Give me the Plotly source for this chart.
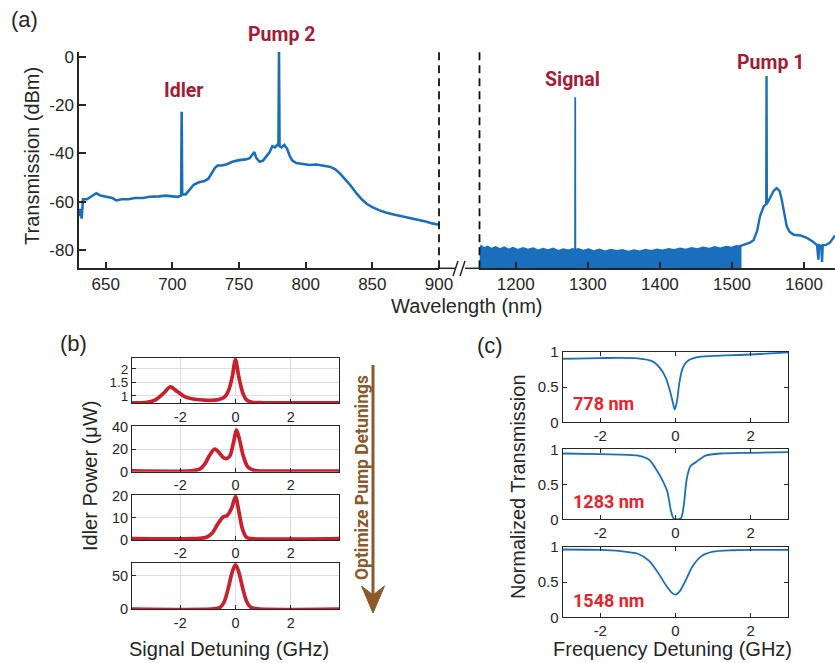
import plotly.graph_objects as go

# ---------------- data ----------------
# (a) spectrum, short-wavelength segment
left_wl = [630, 631, 632, 633, 636, 640, 643, 646, 650, 655, 658, 662, 667, 672, 678, 683, 690, 695,
           700, 704, 706.6, 707, 707.4, 710, 713, 716, 720, 724, 727, 730, 732, 734, 737, 741, 745,
           750, 755, 758, 760, 761.5, 763, 765.5, 768, 770.5, 773, 775, 777, 779.6, 780, 780.4, 782,
           784, 786, 788, 790, 793, 798, 803, 808, 813, 818, 822, 826, 830, 834, 838, 842, 846, 850,
           855, 860, 866, 872, 878, 884, 890, 895, 900]
left_dbm = [-66, -63, -67, -59, -59, -57.5, -56.5, -57.5, -58, -58.5, -59.5, -59, -59, -58.5, -58.5,
            -58, -57.8, -57.5, -57.8, -58, -57.5, -22.8, -57, -57, -55, -53, -52, -51.5, -50.5, -48,
            -46, -45, -45, -44.5, -43.5, -42.8, -42.5, -42, -40.5, -39.5, -42, -43.5, -43, -41, -39.5,
            -37, -37.5, -36, 2.0, -37, -37.5, -36.5, -38, -41, -43, -44, -44.5, -44.8, -44.6, -45,
            -45.5, -46.5, -48.5, -51, -53.5, -56.5, -59, -61, -62.3, -63.5, -64.5, -65.3, -66, -67,
            -67.6, -68.2, -69, -69.6]

# (a) long-wavelength segment: noise-floor envelope (top) and resolved trace
noise_wl = [1150, 1152, 1156, 1161, 1166, 1172, 1178, 1184, 1190, 1196, 1203, 1210, 1217, 1224, 1231,
            1238, 1245, 1252, 1259, 1266, 1273, 1279, 1282.3, 1282.5, 1282.7, 1287, 1294, 1301, 1308,
            1316, 1324, 1332, 1340, 1348, 1356, 1364, 1372, 1380, 1388, 1396, 1404, 1412, 1420, 1428,
            1436, 1444, 1452, 1460, 1468, 1476, 1484, 1492, 1500, 1506, 1512]
noise_top = [-80, -78.3, -79.2, -78.6, -79.5, -78.8, -79.6, -78.9, -79.8, -79.1, -80, -79.2, -79.9,
             -79.3, -80.2, -79.5, -80.1, -79.4, -80.4, -79.7, -80.2, -79.6, -80, -16.8, -80, -79.6,
             -80.3, -79.7, -80.5, -79.8, -80.6, -79.9, -80.4, -80.0, -80.7, -80.1, -80.6, -79.9, -80.4,
             -79.8, -80.2, -79.6, -80.0, -79.4, -79.9, -79.2, -79.7, -79.0, -79.5, -78.8, -79.3, -78.6,
             -79.0, -78.3, -78.5]
noise_bottom = -90
right_wl = [1510, 1515, 1520, 1525, 1530, 1535, 1539, 1544, 1547.6, 1548, 1548.4, 1551, 1555, 1558,
            1562, 1566, 1569, 1572, 1576, 1580, 1586, 1595, 1604, 1612, 1618, 1620, 1621, 1624, 1625,
            1626, 1630, 1636, 1643]
right_dbm = [-78.5, -78, -77.5, -77, -76, -72, -66, -62, -61, -8, -61, -59.5, -57, -55.5, -54.4, -55.5,
             -59, -64, -70.2, -72.5, -73.7, -74, -75, -76.5, -78, -84, -78, -78.5, -85, -78, -78, -77, -74]

# (b) idler power vs signal detuning, four pump-detuning settings
b1_x = [-3.75, -3.2, -2.9, -2.6, -2.36, -2.1, -1.8, -1.4, -1.0, -0.6, -0.4, -0.25, -0.12, 0, 0.12, 0.25, 0.4, 0.6, 1.0, 2.0, 3.75]
b1_y = [0.74, 0.76, 0.85, 1.1, 1.33, 1.15, 0.95, 0.86, 0.83, 0.86, 0.95, 1.2, 1.7, 2.35, 1.7, 1.15, 0.85, 0.76, 0.74, 0.74, 0.74]
b2_x = [-3.75, -1.6, -1.3, -1.1, -0.95, -0.76, -0.6, -0.45, -0.33, -0.2, -0.08, 0.04, 0.15, 0.28, 0.45, 0.7, 1.0, 3.75]
b2_y = [0.5, 0.6, 2, 7, 14, 20, 17, 12.5, 11.5, 14, 25, 37, 28, 14, 4, 0.8, 0.4, 0.4]
b3_x = [-3.75, -1.3, -1.05, -0.85, -0.65, -0.45, -0.3, -0.15, 0, 0.12, 0.25, 0.4, 0.6, 3.75]
b3_y = [0.6, 0.7, 1.2, 3, 7, 10.3, 11, 14, 19.5, 13, 5, 1.2, 0.6, 0.6]
b4_x = [-3.75, -0.8, -0.55, -0.4, -0.25, -0.12, 0, 0.12, 0.25, 0.4, 0.55, 0.8, 3.75]
b4_y = [0.3, 0.5, 3, 12, 33, 55, 66, 55, 33, 12, 3, 0.5, 0.3]

# (c) normalized transmission of three resonances
c1_x = [-3, -2, -1, -0.6, -0.4, -0.25, -0.15, -0.07, -0.02, 0.04, 0.1, 0.18, 0.3, 0.55, 1, 2, 3]
c1_y = [0.90, 0.91, 0.905, 0.86, 0.76, 0.62, 0.45, 0.28, 0.18, 0.30, 0.55, 0.75, 0.86, 0.92, 0.94, 0.96, 0.99]
c2_x = [-3, -2, -1, -0.7, -0.5, -0.35, -0.22, -0.12, -0.05, 0.05, 0.15, 0.22, 0.3, 0.4, 0.55, 0.8, 1.2, 2, 3]
c2_y = [0.94, 0.93, 0.91, 0.85, 0.7, 0.56, 0.4, 0.12, 0.01, 0.0, 0.02, 0.2, 0.58, 0.76, 0.82, 0.91, 0.94, 0.95, 0.96]
c3_x = [-3, -2, -1.5, -1, -0.7, -0.45, -0.25, -0.1, 0, 0.1, 0.25, 0.45, 0.7, 1, 1.5, 2, 3]
c3_y = [0.96, 0.955, 0.94, 0.9, 0.8, 0.62, 0.45, 0.35, 0.32, 0.36, 0.5, 0.72, 0.87, 0.93, 0.95, 0.955, 0.955]
c_labels = ["778 nm", "1283 nm", "1548 nm"]

# tick labels
a_left_ticks = [650, 700, 750, 800, 850, 900]
a_right_ticks = [1200, 1300, 1400, 1500, 1600]
a_y_ticks = [-80, -60, -40, -20, 0]
a_y_text = ["-80", "-60", "-40", "-20", "0"]
b_x_ticks = [-2, 0, 2]
b_x_text = ["-2", "0", "2"]
b_y_ticks = [[1, 1.5, 2], [0, 20, 40], [0, 10, 20], [0, 50]]
b_y_text = [["1", "1.5", "2"], ["0", "20", "40"], ["0", "10", "20"], ["0", "50"]]
c_y_ticks = [0, 0.5, 1]
c_y_text = ["0", "0.5", "1"]

# ---------------- styling ----------------
W, H = 835, 663
def X(p): return p / W
def Y(p): return 1 - p / H

BLUE = "#1a6fbd"
RED = "#c8202e"
DARKRED = "#a51c36"
BRIGHTRED = "#e8232a"
BROWN = "#8b5a2b"
AX = "#262626"
FONT = "Liberation Sans"

fig = go.Figure()

# (a)
fig.add_trace(go.Scatter(x=left_wl, y=left_dbm, mode="lines", line=dict(color=BLUE, width=2.6),
                         xaxis="x", yaxis="y", showlegend=False))
poly_x = noise_wl + noise_wl[::-1]
poly_y = noise_top + [noise_bottom] * len(noise_wl)
fig.add_trace(go.Scatter(x=poly_x, y=poly_y, mode="lines", fill="toself", fillcolor=BLUE,
                         line=dict(color=BLUE, width=1.8), xaxis="x2", yaxis="y2", showlegend=False))
fig.add_trace(go.Scatter(x=right_wl, y=right_dbm, mode="lines", line=dict(color=BLUE, width=2.4),
                         xaxis="x2", yaxis="y2", showlegend=False))

# (b)
for i, (bx, by) in enumerate([(b1_x, b1_y), (b2_x, b2_y), (b3_x, b3_y), (b4_x, b4_y)]):
    n = i + 3
    fig.add_trace(go.Scatter(x=bx, y=by, mode="lines", line=dict(color=RED, width=3.7, shape="spline", smoothing=0.8),
                             xaxis=f"x{n}", yaxis=f"y{n}", showlegend=False))
# (c)
for i, (cx, cy) in enumerate([(c1_x, c1_y), (c2_x, c2_y), (c3_x, c3_y)]):
    n = i + 7
    fig.add_trace(go.Scatter(x=cx, y=cy, mode="lines", line=dict(color=BLUE, width=1.8, shape="spline", smoothing=0.7),
                             xaxis=f"x{n}", yaxis=f"y{n}", showlegend=False))

tf_b = dict(family=FONT, size=14.5, color=AX)
tf_c = dict(family=FONT, size=15, color=AX)
tf_big = dict(family=FONT, size=17, color=AX)

layout = dict(
    width=W, height=H, autosize=False,
    margin=dict(l=0, r=0, t=0, b=0, pad=0, autoexpand=False),
    paper_bgcolor="white", plot_bgcolor="white",
    showlegend=False,
)

# panel (a) axes
layout["xaxis"] = dict(domain=[X(79), X(439)], range=[630, 900], anchor="y", tickvals=a_left_ticks,
                       ticks="inside", ticklen=7, tickwidth=1.5, tickcolor=AX, showline=True, linecolor=AX,
                       linewidth=1.5, tickfont=tf_big, showgrid=False, zeroline=False, layer="above traces")
layout["yaxis"] = dict(domain=[Y(268.3), Y(51.7)], range=[-87.6, 2.1], anchor="x", tickvals=a_y_ticks,
                       ticktext=a_y_text, ticks="inside", ticklen=7, tickwidth=1.5, tickcolor=AX, showline=True,
                       linecolor=AX, linewidth=1.5, tickfont=tf_big, showgrid=False, zeroline=False,
                       layer="above traces")
layout["xaxis2"] = dict(domain=[X(479), 1], range=[1149, 1643], anchor="y2", tickvals=a_right_ticks,
                        ticks="inside", ticklen=7, tickwidth=1.5, tickcolor=AX, showline=True, linecolor=AX,
                        linewidth=1.5, tickfont=tf_big, showgrid=False, zeroline=False, layer="above traces")
layout["yaxis2"] = dict(domain=[Y(268.3), Y(51.7)], range=[-87.6, 2.1], anchor="x2", visible=False)

# panel (b) axes
b_dom = [(403.3, 357.7), (471.7, 426), (540, 495), (609.3, 563.3)]
b_rng = [[0.72, 2.42], [-0.2, 40.6], [0, 20.2], [0, 68]]
b_yfont = [dict(family=FONT, size=13.5, color=AX), tf_b, tf_b, tf_b]
for i in range(4):
    n = i + 3
    layout[f"xaxis{n}"] = dict(domain=[X(132), X(339)], range=[-3.75, 3.75], anchor=f"y{n}",
                               tickvals=b_x_ticks, ticktext=b_x_text, ticks="inside", ticklen=4,
                               tickcolor=AX, showline=True, mirror=True, linecolor=AX, linewidth=1,
                               showgrid=True, gridcolor="#dedede", zeroline=False, tickfont=tf_b)
    layout[f"yaxis{n}"] = dict(domain=[Y(b_dom[i][0]), Y(b_dom[i][1])], range=b_rng[i], anchor=f"x{n}",
                               tickvals=b_y_ticks[i], ticktext=b_y_text[i], ticks="inside", ticklen=4,
                               tickcolor=AX, showline=True, mirror=True, linecolor=AX, linewidth=1,
                               showgrid=True, gridcolor="#dedede", zeroline=False, tickfont=b_yfont[i])

# panel (c) axes
c_dom = [(422.3, 351.7), (519.3, 449.3), (617.3, 546.7)]
for i in range(3):
    n = i + 7
    layout[f"xaxis{n}"] = dict(domain=[X(562.7), X(788.3)], range=[-3, 3], anchor=f"y{n}",
                               tickvals=b_x_ticks, ticktext=b_x_text, ticks="inside", ticklen=4,
                               tickcolor=AX, showline=True, mirror="ticks", linecolor=AX, linewidth=1,
                               showgrid=False, zeroline=False, tickfont=tf_c)
    layout[f"yaxis{n}"] = dict(domain=[Y(c_dom[i][0]), Y(c_dom[i][1])], range=[0, 1], anchor=f"x{n}",
                               tickvals=c_y_ticks, ticktext=c_y_text, ticks="inside", ticklen=4,
                               tickcolor=AX, showline=True, mirror="ticks", linecolor=AX, linewidth=1,
                               showgrid=False, zeroline=False, tickfont=tf_c)

fig.update_layout(**layout)

# ---------------- shapes ----------------
shapes = [
    # axis-break dashed markers at the segment edges
    dict(type="line", xref="paper", yref="paper", x0=X(439), x1=X(439), y0=Y(268.3), y1=Y(50),
         line=dict(color="#111111", width=1.8, dash="8px,5px")),
    dict(type="line", xref="paper", yref="paper", x0=X(479.5), x1=X(479.5), y0=Y(268.3), y1=Y(50),
         line=dict(color="#111111", width=1.8, dash="8px,5px")),
    dict(type="line", xref="paper", yref="paper", x0=X(439), x1=X(455), y0=Y(268.3), y1=Y(268.3),
         line=dict(color=AX, width=1.5)),
    dict(type="line", xref="paper", yref="paper", x0=X(465), x1=X(479.5), y0=Y(268.3), y1=Y(268.3),
         line=dict(color=AX, width=1.5)),
    dict(type="line", xref="paper", yref="paper", x0=X(453), x1=X(458), y0=Y(276), y1=Y(261),
         line=dict(color=AX, width=1.5)),
    dict(type="line", xref="paper", yref="paper", x0=X(460), x1=X(465), y0=Y(276), y1=Y(261),
         line=dict(color=AX, width=1.5)),
    # arrow in (b)
    dict(type="line", xref="paper", yref="paper", x0=X(373), x1=X(373), y0=Y(365), y1=Y(596),
         line=dict(color=BROWN, width=3)),
    dict(type="path", xref="paper", yref="paper",
         path=f"M {X(361.5)},{Y(586)} L {X(373)},{Y(613)} L {X(384.5)},{Y(586)} L {X(373)},{Y(595)} Z",
         fillcolor=BROWN, line=dict(color=BROWN, width=1)),
]
fig.update_layout(shapes=shapes)

# ---------------- annotations ----------------
def ann(text, x, y, size=20, color=AX, family=FONT, bold=False, angle=0, xanchor="center"):
    t = f"<b>{text}</b>" if bold else text
    return dict(text=t, x=X(x), y=Y(y), xref="paper", yref="paper", showarrow=False,
                font=dict(family=family, size=size, color=color), textangle=angle,
                xanchor=xanchor, yanchor="middle")

annotations = [
    ann("(a)", 24, 19, size=22),
    ann("(b)", 73, 343, size=22),
    ann("(c)", 490, 345, size=22),
    ann("Transmission (dBm)", 32, 156, angle=-90),
    ann("Wavelength (nm)", 467, 306),
    ann("Idler Power (μW)", 90, 476, angle=-90),
    ann("Signal Detuning (GHz)", 229, 649),
    ann("Normalized Transmission", 518, 487, angle=-90),
    ann("Frequency Detuning (GHz)", 672, 649),
    ann("Pump 2", 281, 34, size=19.5, color=DARKRED, family="Roboto", bold=True),
    ann("Idler", 184, 91, size=19.5, color=DARKRED, family="Roboto", bold=True),
    ann("Signal", 572, 79, size=19.5, color=DARKRED, family="Roboto", bold=True),
    ann("Pump 1", 770, 62, size=19.5, color=DARKRED, family="Roboto", bold=True),
    ann("Optimize Pump Detunings", 362, 478, size=17.5, color=BROWN, family="Roboto", bold=True, angle=-90),
]
for lab, yy in zip(c_labels, [404, 501, 600]):
    annotations.append(ann(lab, 571, yy, size=18, color=BRIGHTRED, family="Roboto", bold=True, xanchor="left"))
fig.update_layout(annotations=annotations)

fig.write_html("out.html", config={"displayModeBar": False},
               post_script="document.body.style.margin='0px';document.body.style.overflow='hidden';")
